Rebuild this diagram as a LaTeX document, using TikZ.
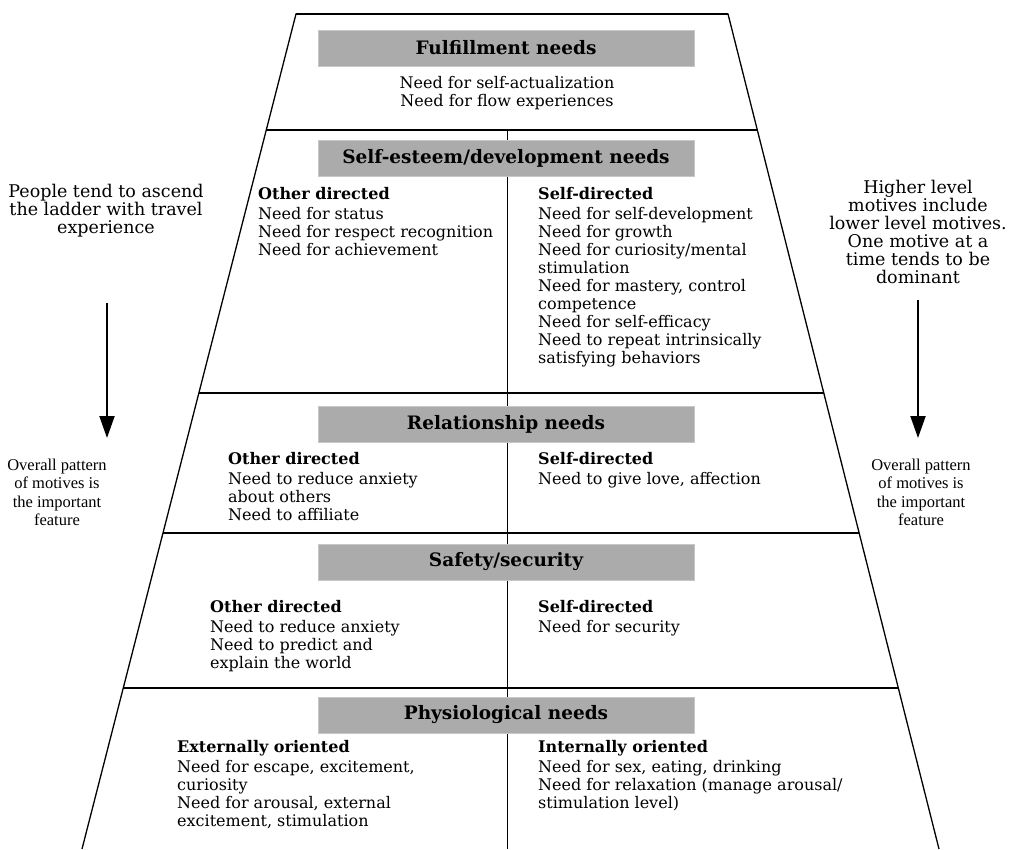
\documentclass[tikz,border=0pt]{standalone}
\usepackage{fontspec}
\setmainfont{DejaVu Serif}
\newfontfamily\lowfont{Liberation Serif}
\usetikzlibrary{arrows.meta, positioning, calc}

\begin{document}
\begin{tikzpicture}[x=1pt, y=-1pt,
  head/.style={rectangle, fill=black!33, draw=black!22, minimum width=376pt,
               minimum height=36pt, inner sep=0pt,
               font=\fontsize{18.5}{20}\selectfont\bfseries},
  col/.style={anchor=north west, align=left, inner sep=0pt,
              font=\fontsize{16}{18}\selectfont},
  side/.style={anchor=north, align=center, inner sep=0pt,
               font=\fontsize{17.5}{18}\selectfont},
  sidelow/.style={anchor=north, align=center, inner sep=0pt,
               font=\lowfont\fontsize{16.5}{18.3}\selectfont},
  frame/.style={line width=1.3pt},
  split/.style={line width=0.8pt},
  arr/.style={-{Triangle[length=22pt,width=15pt]}, line width=2pt}
]
  \useasboundingbox (0,0) rectangle (1009,849);
  \coordinate (TL) at (296,14);
  \coordinate (TR) at (728,14);
  \coordinate (BL) at (82,849);
  \coordinate (BR) at (939,849);
  \coordinate (L1) at ($(TL)!{116/835}!(BL)$);
  \coordinate (R1) at ($(TR)!{116/835}!(BR)$);
  \coordinate (L2) at ($(TL)!{379/835}!(BL)$);
  \coordinate (R2) at ($(TR)!{379/835}!(BR)$);
  \coordinate (L3) at ($(TL)!{519/835}!(BL)$);
  \coordinate (R3) at ($(TR)!{519/835}!(BR)$);
  \coordinate (L4) at ($(TL)!{674/835}!(BL)$);
  \coordinate (R4) at ($(TR)!{674/835}!(BR)$);
  \coordinate (MT) at (507,130);
  \coordinate (MB) at (507,849);
  \draw[frame] (BL) -- (TL) -- (TR) -- (BR);
  \draw[line width=2pt] (TL) -- (TR);
  \draw[frame] (L1) -- (R1);
  \draw[frame] (L2) -- (R2);
  \draw[frame] (L3) -- (R3);
  \draw[frame] (L4) -- (R4);
  \draw[split] (MT) -- (MB);

  \node[head] (H1) at (506,48) {Fulfillment needs};
  \node[side, font=\fontsize{16}{18}\selectfont] (F1) at (507,76) {Need for self-actualization\\Need for flow experiences};

  \node[head] (H2) at (506,158) {Self-esteem/development needs};
  \node[col] (S2a) at (258,187) {\textbf{Other directed}\\[2pt]
    Need for status\\Need for respect recognition\\Need for achievement};
  \node[col] (S2b) at (538,187) {\textbf{Self-directed}\\[2pt]
    Need for self-development\\Need for growth\\Need for curiosity/mental\\stimulation\\
    Need for mastery, control\\competence\\Need for self-efficacy\\
    Need to repeat intrinsically\\satisfying behaviors};

  \node[head] (H3) at (506,424) {Relationship needs};
  \node[col] (S3a) at (228,452) {\textbf{Other directed}\\[2pt]
    Need to reduce anxiety\\about others\\Need to affiliate};
  \node[col] (S3b) at (538,452) {\textbf{Self-directed}\\[2pt]
    Need to give love, affection};

  \node[head] (H4) at (506,562) {Safety/security};
  \node[col] (S4a) at (210,600) {\textbf{Other directed}\\[2pt]
    Need to reduce anxiety\\Need to predict and\\explain the world};
  \node[col] (S4b) at (538,600) {\textbf{Self-directed}\\[2pt]
    Need for security};

  \node[head] (H5) at (506,715) {Physiological needs};
  \node[col] (S5a) at (177,740) {\textbf{Externally oriented}\\[2pt]
    Need for escape, excitement,\\curiosity\\Need for arousal, external\\excitement, stimulation};
  \node[col] (S5b) at (538,740) {\textbf{Internally oriented}\\[2pt]
    Need for sex, eating, drinking\\Need for relaxation (manage arousal/\\stimulation level)};

  \node[side] (LT) at (106,184) {People tend to ascend\\the ladder with travel\\experience};
  \node[sidelow] (LB) at (57,459) {Overall pattern\\of motives is\\the important\\feature};
  \node[side] (RT) at (918,180) {Higher level\\motives include\\lower level motives.\\One motive at a\\time tends to be\\dominant};
  \node[sidelow] (RB) at (921,459) {Overall pattern\\of motives is\\the important\\feature};

  \coordinate (LA1) at (107,303);
  \coordinate (LA2) at (107,438);
  \coordinate (RA1) at (918,300);
  \coordinate (RA2) at (918,438);
  \draw[arr] (LA1) -- (LA2);
  \draw[arr] (RA1) -- (RA2);
\end{tikzpicture}
\end{document}
